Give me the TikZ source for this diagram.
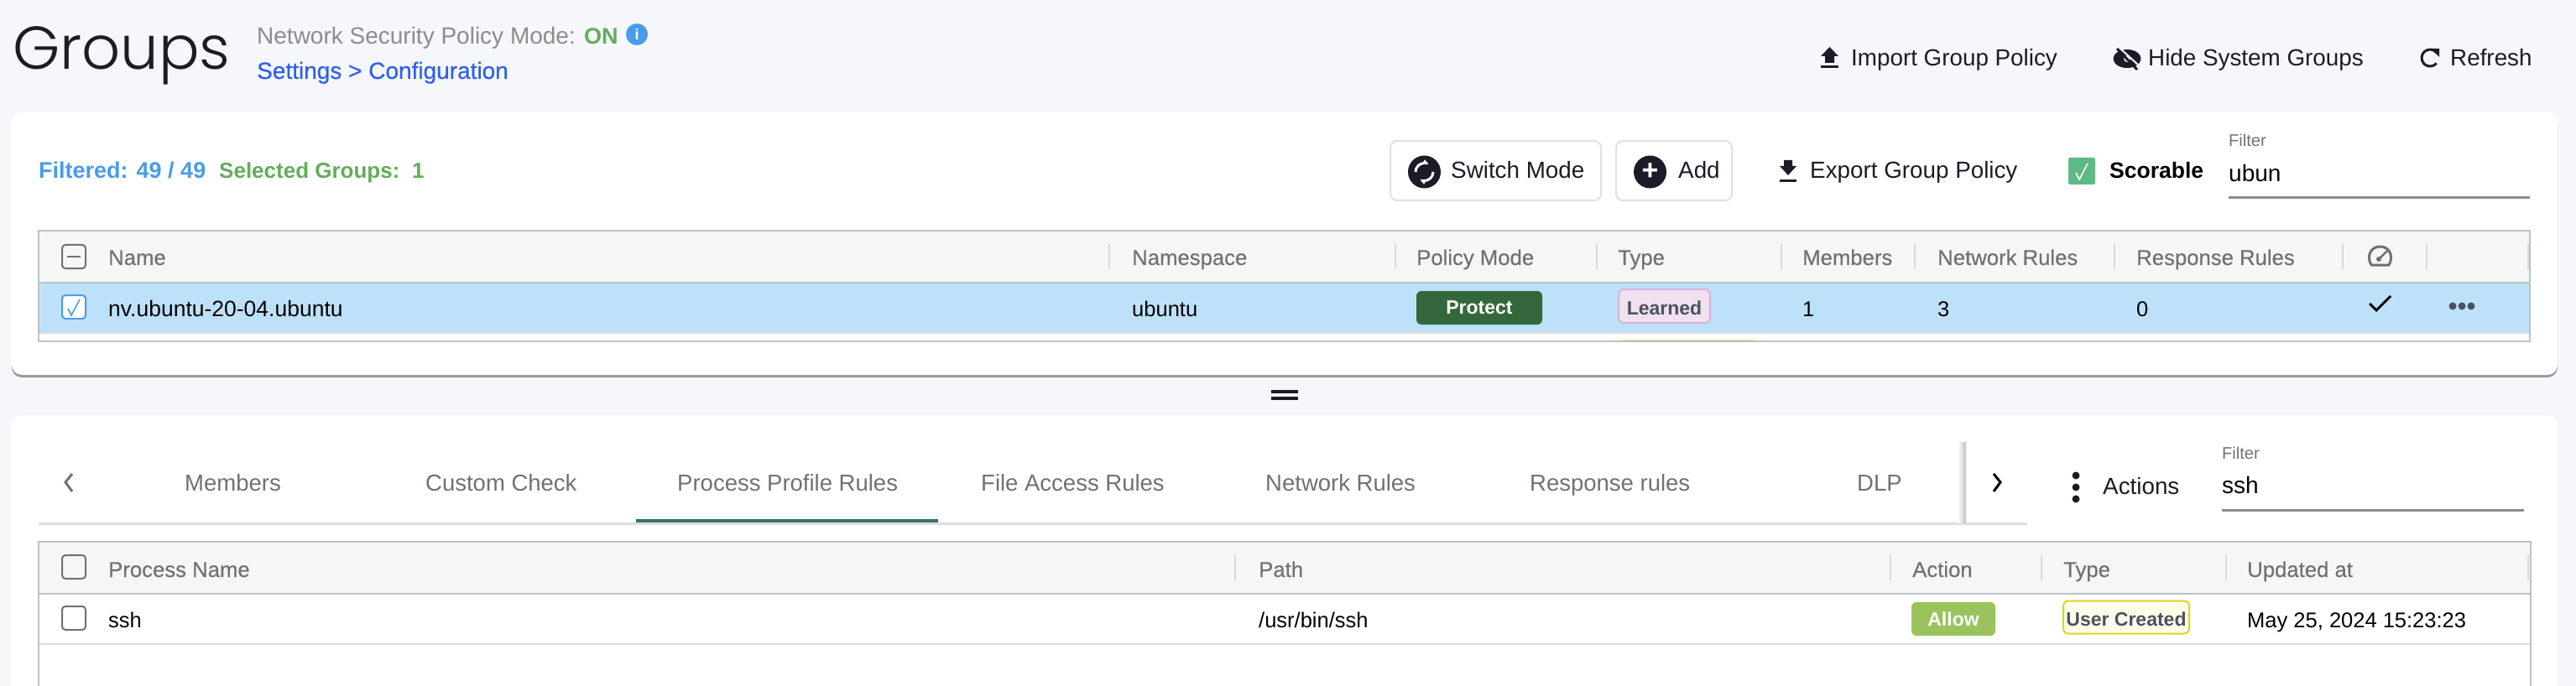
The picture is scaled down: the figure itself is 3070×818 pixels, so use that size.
\documentclass[tikz,border=0pt]{standalone}
\usepackage{fontspec}
\setmainfont{Liberation Sans}
\newfontfamily\medfont[FakeBold=0.35]{Liberation Sans}
\newfontfamily\titlefont{Poppins Light}
\usetikzlibrary{positioning, arrows.meta}
\definecolor{pagebg}{HTML}{F5F7FB}
\definecolor{rulegrey}{HTML}{BCC2C6}
\definecolor{headbg}{HTML}{F5F7F6}
\definecolor{rowblue}{HTML}{BEE1FA}
\definecolor{inkdark}{HTML}{1C1C28}
\definecolor{headtxt}{HTML}{6E7272}
\definecolor{linkblue}{HTML}{2F5FEA}
\definecolor{softblue}{HTML}{4A9BEA}
\definecolor{softgreen}{HTML}{62AD5C}
\definecolor{tabteal}{HTML}{33736B}
\definecolor{slategrey}{HTML}{4A5260}
\definecolor{protectgreen}{HTML}{33693A}
\definecolor{allowgreen}{HTML}{9AC35E}
\definecolor{scoregreen}{HTML}{5FB985}
\tikzset{
    txt/.style={anchor=west, inner sep=0pt, text height=22pt, text depth=2pt, font=\fontsize{25.5}{30}\selectfont, text=black},
    head/.style={txt, font=\medfont\fontsize{25.7}{30}\selectfont, text=headtxt},
    tabname/.style={txt, font=\fontsize{27.5}{30}\selectfont, text=headtxt},
    toolname/.style={txt, font=\fontsize{27.8}{30}\selectfont, text=inkdark},
    chk/.style={draw=headtxt, line width=2pt, rounded corners=4pt, minimum width=28pt, minimum height=28pt, inner sep=0pt},
    badge/.style={rounded corners=6pt, inner sep=0pt, font=\bfseries\fontsize{23}{26}\selectfont},
    lowbadge/.style={badge, text height=21pt, text depth=0pt, line width=2pt, text=slategrey},
    sep/.style={draw=black!15, line width=1.5pt},
    btn/.style={draw=black!12, fill=white, line width=2pt, rounded corners=8pt},
    ico/.style={circle, fill=inkdark, minimum size=39pt, inner sep=0pt, text=white},
    uline/.style={draw=black!45, line width=3pt},
}
\begin{document}
\begin{tikzpicture}[x=1pt, y=-1pt]
   \clip (0,0) rectangle (3070,818);
   \fill[pagebg] (0,0) rectangle (3070,818);
   % page header
   \node[anchor=base west, inner sep=0pt, font=\titlefont\fontsize{72}{80}\selectfont, text=inkdark] (title) at (15,83) {Groups};
   \node[txt, text=black!45, font=\fontsize{28}{30}\selectfont] (mode) at (306,43) {Network Security Policy Mode:};
   \node[txt, text=softgreen, font=\bfseries\fontsize{27}{30}\selectfont] (on) at (696,43) {ON};
   \node[circle, fill=softblue, minimum size=26pt, inner sep=0pt, text=white, font=\bfseries\fontsize{18}{20}\selectfont] (info) at (759,41) {i};
   \node[txt, text=linkblue, font=\medfont\fontsize{28}{30}\selectfont] (settings) at (306,84) {Settings > Configuration};
   \node[toolname] (import) at (2206,69) {Import Group Policy};
   \node[toolname] (hide) at (2560,69) {Hide System Groups};
   \node[toolname] (refresh) at (2920,69) {Refresh};
   % import icon
   \fill[inkdark] (2180.5,56) -- (2191,67) -- (2186,67) -- (2186,75) -- (2175,75) -- (2175,67) -- (2170,67) -- cycle;
   \fill[inkdark] (2170,78) rectangle (2191,81);
   % hide icon
   \fill[inkdark] (2535,70) ellipse (16.5pt and 11pt);
   \fill[pagebg] (2535,70) circle (4pt);
   \draw[pagebg, line width=2pt] (2526,57) -- (2551,80);
   \draw[inkdark, line width=3pt] (2523,58) -- (2547,83);
   % refresh icon
   \draw[inkdark, line width=3pt] (2903.7,62.6) arc (40:320:10pt);
   \fill[inkdark] (2897,58) -- (2907,58) -- (2907,68) -- cycle;
   % upper card
   \fill[black!40, rounded corners=12pt] (14,137) rectangle (3048,450);
   \fill[white, rounded corners=12pt] (14,133) rectangle (3048,447);
   \node[txt, text=softblue, font=\bfseries\fontsize{27}{30}\selectfont] (filtered) at (46,203) {Filtered: 49 / 49};
   \node[txt, text=softgreen, font=\bfseries\fontsize{26}{30}\selectfont] (selected) at (261,203) {Selected Groups:};
   \node[txt, text=softgreen, font=\bfseries\fontsize{26}{30}\selectfont] (selnum) at (491,203) {1};
   \node[btn, minimum width=251pt, minimum height=71pt] (switch) at (1782.5,203.5) {};
   \node[btn, minimum width=138pt, minimum height=71pt] (add) at (1995,203.5) {};
   \node[ico] (swicon) at (1697.5,205) {};
   \draw[white, line width=3pt, -{Latex[length=7pt]}] (1687,205) arc (180:60:10.5pt);
   \draw[white, line width=3pt, -{Latex[length=7pt]}] (1708,205) arc (0:-120:10.5pt);
   \node[ico, font=\bfseries\fontsize{34}{34}\selectfont] (addicon) at (1966.5,205) {+};
   \node[toolname] (swtxt) at (1729,203) {Switch Mode};
   \node[toolname] (addtxt) at (2000,203) {Add};
   \node[toolname] (export) at (2157,203) {Export Group Policy};
   \fill[inkdark] (2131,209) -- (2121,198) -- (2126,198) -- (2126,191) -- (2136,191) -- (2136,198) -- (2141,198) -- cycle;
   \fill[inkdark] (2121,214) rectangle (2141,217);
   \node[fill=scoregreen, rounded corners=2pt, minimum size=32pt, inner sep=0pt] (score) at (2481,204) {};
   \draw[white, line width=1.6pt] (2474,206) -- (2478,214) -- (2488,195);
   \node[txt, font=\bfseries\fontsize{26.5}{30}\selectfont] (scoretxt) at (2514,203) {Scorable};
   \node[txt, text=headtxt, font=\fontsize{20}{24}\selectfont] (flabel) at (2656,165) {Filter};
   \node[txt, font=\fontsize{28}{30}\selectfont] (ftext) at (2656,207) {ubun};
   \draw[uline] (2656,236) -- (3015,236);
   % upper table
   \fill[headbg] (46,275) rectangle (3015,337);
   \fill[rowblue] (46,338) rectangle (3015,396);
   \fill[black!13] (46,396) rectangle (3015,398);
   \fill[yellow!50!white!90!black] (1933,404.5) rectangle (2091,406);
   \draw[rulegrey, line width=2.5pt] (46,275) rectangle (3015,407);
   \draw[rulegrey, line width=2.5pt] (46,337) -- (3015,337);
   \foreach \sx in {1322,1663,1903,2123,2282,2520,2792,2892,3013}
      \draw[sep] (\sx,291) -- (\sx,321);
   \node[chk] (hchk) at (88,306) {};
   \draw[headtxt, line width=2pt] (80,306) -- (96,306);
   \node[chk, draw=softblue, fill=white] (rchk) at (88,366) {};
   \draw[softblue, line width=1.6pt] (81,368) -- (85,376) -- (95,357);
   \node[head] (hname) at (129,306) {Name};
   \node[head] (hns) at (1349,306) {Namespace};
   \node[head] (hpm) at (1688,306) {Policy Mode};
   \node[head] (htype) at (1928,306) {Type};
   \node[head] (hmem) at (2148,306) {Members};
   \node[head] (hnet) at (2309,306) {Network Rules};
   \node[head] (hresp) at (2546,306) {Response Rules};
   % gauge icon
   \draw[headtxt, line width=3pt, line join=round] (2826,316) -- (2847,316) .. controls (2853,306) and (2848,294) .. (2836.5,294) .. controls (2825,294) and (2820,306) .. (2826,316) -- cycle;
   \draw[headtxt, line width=2.5pt] (2835,309) -- (2845,299);
   \fill[headtxt] (2835,309) circle (3pt);
   \node[txt, font=\fontsize{26.5}{30}\selectfont] (rname) at (129,367) {nv.ubuntu-20-04.ubuntu};
   \node[txt] (rns) at (1349,367) {ubuntu};
   \node[badge, fill=protectgreen, text=white, minimum width=150pt, minimum height=40pt] (protect) at (1763,367) {Protect};
   \node[lowbadge, draw=violet!30, fill=violet!12, minimum width=109pt, minimum height=40pt] (learned) at (1983.5,365) {Learned};
   \node[txt] (rmem) at (2148,367) {1};
   \node[txt] (rnet) at (2309,367) {3};
   \node[txt] (rresp) at (2546,367) {0};
   \draw[black, line width=2.8pt] (2824,362) -- (2832,370) -- (2849,353);
   \foreach \dx in {2923,2934,2945}
      \fill[slategrey] (\dx,365) circle (4.5pt);
   % splitter
   \draw[inkdark, line width=4pt] (1515,467) -- (1547,467);
   \draw[inkdark, line width=4pt] (1515,475) -- (1547,475);
   % lower card
   \fill[white, rounded corners=12pt] (14,495) rectangle (3048,840);
   \node[tabname] (tmem) at (220,575) {Members};
   \node[tabname] (tcust) at (507,575) {Custom Check};
   \node[tabname] (tproc) at (807,575) {Process Profile Rules};
   \node[tabname] (tfile) at (1169,575) {File Access Rules};
   \node[tabname] (tnet) at (1508,575) {Network Rules};
   \node[tabname] (tresp) at (1823,575) {Response rules};
   \node[tabname] (tdlp) at (2213,575) {DLP};
   \draw[headtxt, line width=3pt] (86,565) -- (78,575) -- (86,586);
   \draw[black, line width=3pt] (2376,565) -- (2384,575) -- (2376,586);
   \draw[black!13, line width=3pt] (46,624) -- (2416,624);
   \fill[tabteal] (758,619) rectangle (1118,623);
   \shade[left color=white, right color=black!25] (2333,527) rectangle (2343,623);
   \foreach \dy in {567,581,595}
      \fill[inkdark] (2474,\dy) circle (4.5pt);
   \node[toolname] (actions) at (2506,579) {Actions};
   \node[txt, text=headtxt, font=\fontsize{20}{24}\selectfont] (flabelb) at (2648,537) {Filter};
   \node[txt, font=\fontsize{28}{30}\selectfont] (ftextb) at (2648,578) {ssh};
   \draw[uline] (2648,608) -- (3008,608);
   % lower table
   \fill[headbg] (46,646) rectangle (3016,708);
   \draw[black!13, line width=2.5pt] (46,768) -- (3016,768);
   \draw[rulegrey, line width=2.5pt] (46,830) -- (46,646) -- (3016,646) -- (3016,830);
   \draw[rulegrey, line width=2.5pt] (46,708) -- (3016,708);
   \foreach \sx in {1472,2253,2433,2653,3013}
      \draw[sep] (\sx,662) -- (\sx,692);
   \node[chk] (hchkb) at (88,676) {};
   \node[chk] (rchkb) at (88,737) {};
   \node[head] (hproc) at (129,678) {Process Name};
   \node[head] (hpath) at (1500,678) {Path};
   \node[head] (hact) at (2279,678) {Action};
   \node[head] (htypeb) at (2459,678) {Type};
   \node[head] (hupd) at (2678,678) {Updated at};
   \node[txt] (rssh) at (129,738) {ssh};
   \node[txt] (rpath) at (1500,738) {/usr/bin/ssh};
   \node[badge, fill=allowgreen, text=white, minimum width=100pt, minimum height=40pt] (allow) at (2328,738) {Allow};
   \node[lowbadge, draw=yellow!85!black, fill=yellow!8, minimum width=150pt, minimum height=39pt] (usercr) at (2534,736) {User Created};
   \node[txt] (rdate) at (2678,738) {May 25, 2024 15:23:23};
\end{tikzpicture}
\end{document}
